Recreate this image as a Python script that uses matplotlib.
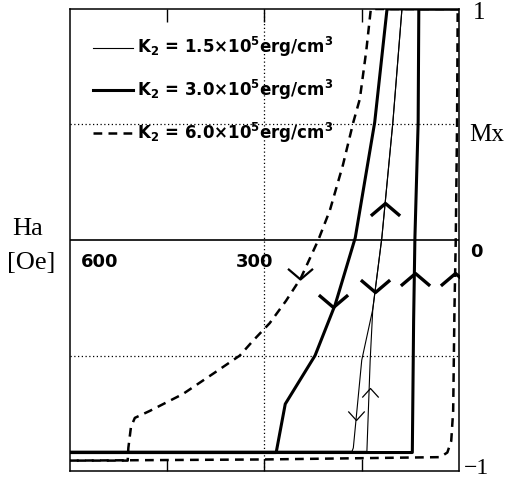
import matplotlib
matplotlib.use("Agg")
import matplotlib.pyplot as plt

plt.rcParams["font.family"] = "DejaVu Sans"
plt.rcParams["mathtext.fontset"] = "dejavusans"
plt.rcParams["mathtext.default"] = "bf"

# Ha in Oe (axis runs 600 -> 0), Mx normalised
# K2 = 1.5e5 erg/cm3 (thin)
thin_down_h = [0, 88, 102, 119, 133, 150, 163, 165, 600]
thin_down_m = [1, 1, 0.51, 0.01, -0.30, -0.52, -0.90, -0.915, -0.915]
thin_up_h = [600, 142, 142, 137, 133, 119, 102, 88, 0]
thin_up_m = [-0.915, -0.915, -0.91, -0.52, -0.30, 0.01, 0.51, 1, 1]

# K2 = 3.0e5 erg/cm3 (thick)
thick_down_h = [0, 111, 130, 160, 176, 191, 222, 268, 282, 600]
thick_down_m = [1, 1, 0.51, 0.01, -0.14, -0.28, -0.50, -0.71, -0.92, -0.92]
thick_up_h = [600, 72, 70, 68, 63, 62, 0]
thick_up_m = [-0.92, -0.92, -0.35, 0.01, 0.51, 1, 1]

# K2 = 6.0e5 erg/cm3 (dashed)
dash_down_h = [0, 136, 143, 153, 163, 179, 199, 217, 244, 267, 292, 318, 338,
               373, 426, 477, 500, 506, 510, 511, 600]
dash_down_m = [1, 1, 0.82, 0.61, 0.51, 0.325, 0.13, 0, -0.165, -0.264, -0.36,
               -0.437, -0.50, -0.567, -0.667, -0.74, -0.77, -0.81, -0.90, -0.955, -0.955]
dash_up_h = [600, 300, 29, 18, 12, 9, 7, 5, 3, 2, 0]
dash_up_m = [-0.955, -0.95, -0.94, -0.92, -0.87, -0.74, -0.3, 0.0, 0.5, 1, 1]

# direction arrows (vertex positions)
big_up_h = [114, 68, 6]
big_up_m = [0.16, -0.143, -0.143]
big_down_h = [130, 194]
big_down_m = [-0.225, -0.29]
dash_arrow_h = [245]
dash_arrow_m = [-0.17]
small_up_h = [138]
small_up_m = [-0.64]
small_down_h = [159]
small_down_m = [-0.78]

labels = ["K$_2$ = 1.5×10$^5$erg/cm$^3$",
          "K$_2$ = 3.0×10$^5$erg/cm$^3$",
          "K$_2$ = 6.0×10$^5$erg/cm$^3$"]

fig = plt.figure(figsize=(5.06, 4.82), dpi=100)
ax = fig.add_axes([70 / 506, 11 / 482, 389 / 506, 462 / 482])

ax.set_xlim(600, 0)
ax.set_ylim(-1, 1)

# grid
ax.axhline(0, color="black", lw=1.2)
for y in (0.5, -0.5):
    ax.axhline(y, color="black", lw=0.9, ls=(0, (1, 2)))
ax.axvline(300, color="black", lw=0.9, ls=(0, (1, 2)))

l1, = ax.plot(thin_down_h, thin_down_m, color="black", lw=0.8)
ax.plot(thin_up_h, thin_up_m, color="black", lw=0.8)
l2, = ax.plot(thick_down_h, thick_down_m, color="black", lw=2.2)
ax.plot(thick_up_h, thick_up_m, color="black", lw=2.2)
l3, = ax.plot(dash_down_h, dash_down_m, color="black", lw=1.8, dashes=(3.5, 2.5))
ax.plot(dash_up_h, dash_up_m, color="black", lw=1.8, dashes=(3.5, 2.5))

up = [(-1, -0.85), (0, 0), (1, -0.85)]
down = [(-1, 0.85), (0, 0), (1, 0.85)]
ax.plot(big_up_h, big_up_m, ls="none", marker=up, ms=21, mew=2.4, mfc="none", mec="black")
ax.plot(big_down_h, big_down_m, ls="none", marker=down, ms=21, mew=2.4, mfc="none", mec="black")
ax.plot(dash_arrow_h, dash_arrow_m, ls="none", marker=down, ms=18, mew=1.6, mfc="none", mec="black")
ax.plot(small_up_h, small_up_m, ls="none", marker=[(-1, -1.1), (0, 0), (1, -1.1)], ms=13,
        mew=0.9, mfc="none", mec="black")
ax.plot(small_down_h, small_down_m, ls="none", marker=[(-1, 1.1), (0, 0), (1, 1.1)], ms=13,
        mew=0.9, mfc="none", mec="black")

ax.legend([l1, l2, l3], labels, loc="upper left", bbox_to_anchor=(0.059, 0.943),
          frameon=False, prop=dict(size=12, weight="bold"), handlelength=2.4,
          handletextpad=0.25, labelspacing=1.12, borderpad=0, borderaxespad=0)

ax.set_xticks([450, 300, 150])
ax.set_xticklabels([])
ax.set_yticks([])
ax.tick_params(axis="x", direction="in", length=9, width=1, top=True)
for s in ax.spines.values():
    s.set_linewidth(1.1)

# axis value labels
ax.text(554, -0.095, "600", ha="center", va="center", fontsize=13, fontweight="bold")
ax.text(316, -0.095, "300", ha="center", va="center", fontsize=13, fontweight="bold")
fig.text(476 / 506, 1 - 252 / 482, "0", ha="center", va="center", fontsize=13, fontweight="bold")

serif = "Liberation Serif"
fig.text(479 / 506, 1 - 13 / 482, "1", ha="center", va="center", fontsize=18, family=serif)
fig.text(487 / 506, 1 - 135 / 482, "Mx", ha="center", va="center", fontsize=18, family=serif)
fig.text(477 / 506, 1 - 468 / 482, "\u22121", ha="center", va="center", fontsize=17, family=serif)
fig.text(28 / 506, 1 - 229 / 482, "Ha", ha="center", va="center", fontsize=19, family=serif)
fig.text(31 / 506, 1 - 263 / 482, "[Oe]", ha="center", va="center", fontsize=19, family=serif)

fig.savefig("out.png", dpi=100)
